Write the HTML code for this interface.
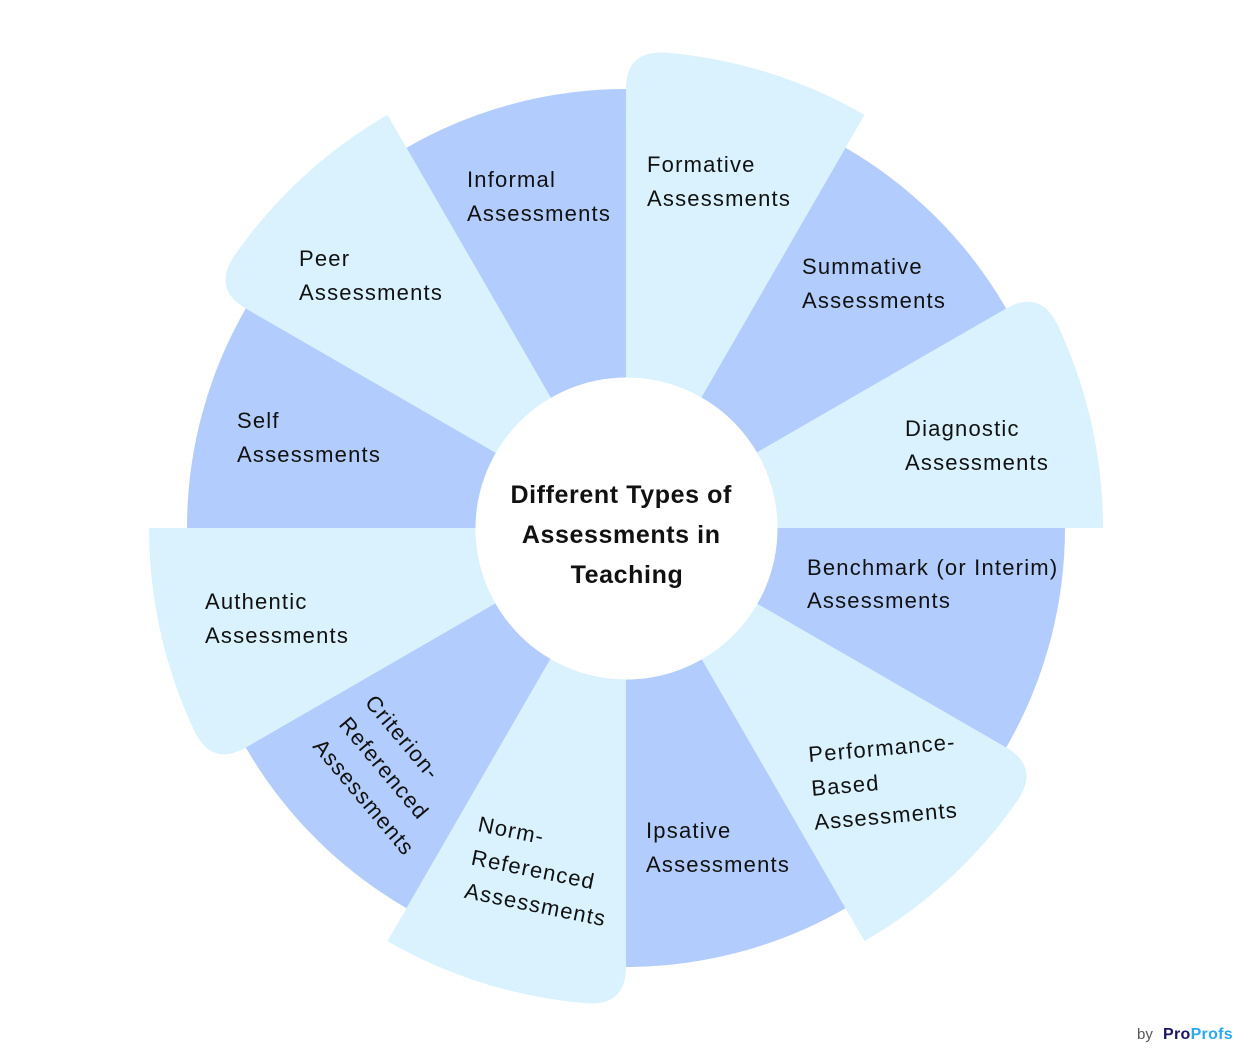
<!DOCTYPE html>
<html>
<head>
<meta charset="utf-8">
<style>
  html, body { margin: 0; padding: 0; background: #ffffff; }
  body { width: 1253px; height: 1056px; overflow: hidden; }
  svg { display: block; }
  .t { font-family: "Liberation Sans", Arial, sans-serif; font-size: 22px; fill: #111111; letter-spacing: 1.2px; }
  .c { font-family: "Liberation Sans", Arial, sans-serif; font-size: 25px; font-weight: bold; fill: #111111; letter-spacing: 0.6px; }
</style>
</head>
<body>
<svg width="1253" height="1056" viewBox="0 0 1253 1056" xmlns="http://www.w3.org/2000/svg">
  <defs>
    <path id="light" d="M626,528 L626,89 Q626,51 663.96,52.51 A477,477 0 0 1 864.5,114.9 Z"/>
    <path id="dark" d="M626,528 L845.5,147.8 A439,439 0 0 1 1006.2,308.5 Z"/>
  </defs>
  <rect width="1253" height="1056" fill="#ffffff"/>

  <!-- light sectors -->
  <g fill="#d9f2fe">
    <use href="#light" transform="rotate(0 626 528)"/>
    <use href="#light" transform="rotate(60 626 528)"/>
    <use href="#light" transform="rotate(120 626 528)"/>
    <use href="#light" transform="rotate(180 626 528)"/>
    <use href="#light" transform="rotate(240 626 528)"/>
    <use href="#light" transform="rotate(300 626 528)"/>
  </g>
  <!-- dark sectors -->
  <g fill="#b2cdfd">
    <use href="#dark" transform="rotate(0 626 528)"/>
    <use href="#dark" transform="rotate(60 626 528)"/>
    <use href="#dark" transform="rotate(120 626 528)"/>
    <use href="#dark" transform="rotate(180 626 528)"/>
    <use href="#dark" transform="rotate(240 626 528)"/>
    <use href="#dark" transform="rotate(300 626 528)"/>
  </g>

  <!-- center circle -->
  <circle cx="626.5" cy="528.5" r="151" fill="#ffffff"/>

  <!-- center title -->
  <text class="c" text-anchor="middle">
    <tspan x="625" y="503">Different Types of</tspan>
    <tspan x="625" y="543">Assessments in</tspan>
    <tspan x="627" y="583">Teaching</tspan>
  </text>

  <!-- labels -->
  <text class="t"><tspan x="647" y="172">Formative</tspan><tspan x="647" y="206">Assessments</tspan></text>
  <text class="t"><tspan x="802" y="274">Summative</tspan><tspan x="802" y="308">Assessments</tspan></text>
  <text class="t"><tspan x="905" y="436">Diagnostic</tspan><tspan x="905" y="470">Assessments</tspan></text>
  <text class="t"><tspan x="807" y="575">Benchmark (or Interim)</tspan><tspan x="807" y="608">Assessments</tspan></text>
  <text class="t" transform="rotate(-5 809 762)"><tspan x="809" y="762">Performance-</tspan><tspan x="809" y="796">Based</tspan><tspan x="809" y="830">Assessments</tspan></text>
  <text class="t"><tspan x="646" y="838">Ipsative</tspan><tspan x="646" y="872">Assessments</tspan></text>
  <text class="t" transform="rotate(11.5 477 831)"><tspan x="477" y="831">Norm-</tspan><tspan x="477" y="865">Referenced</tspan><tspan x="477" y="899">Assessments</tspan></text>
  <text class="t" transform="rotate(50 364 703)"><tspan x="364" y="703">Criterion-</tspan><tspan x="364" y="737">Referenced</tspan><tspan x="364" y="771">Assessments</tspan></text>
  <text class="t"><tspan x="205" y="609">Authentic</tspan><tspan x="205" y="643">Assessments</tspan></text>
  <text class="t"><tspan x="237" y="428">Self</tspan><tspan x="237" y="462">Assessments</tspan></text>
  <text class="t"><tspan x="299" y="266">Peer</tspan><tspan x="299" y="300">Assessments</tspan></text>
  <text class="t"><tspan x="467" y="187">Informal</tspan><tspan x="467" y="221">Assessments</tspan></text>

  <!-- logo -->
  <text x="1137" y="1039" font-family="Liberation Sans, Arial, sans-serif" font-size="15" fill="#555555">by</text>
  <text x="1163" y="1039" font-family="Liberation Sans, Arial, sans-serif" font-size="16" font-weight="bold" letter-spacing="0.3"><tspan fill="#1b1464">Pro</tspan><tspan fill="#2aa8f2">Profs</tspan></text>
</svg>
</body>
</html>
